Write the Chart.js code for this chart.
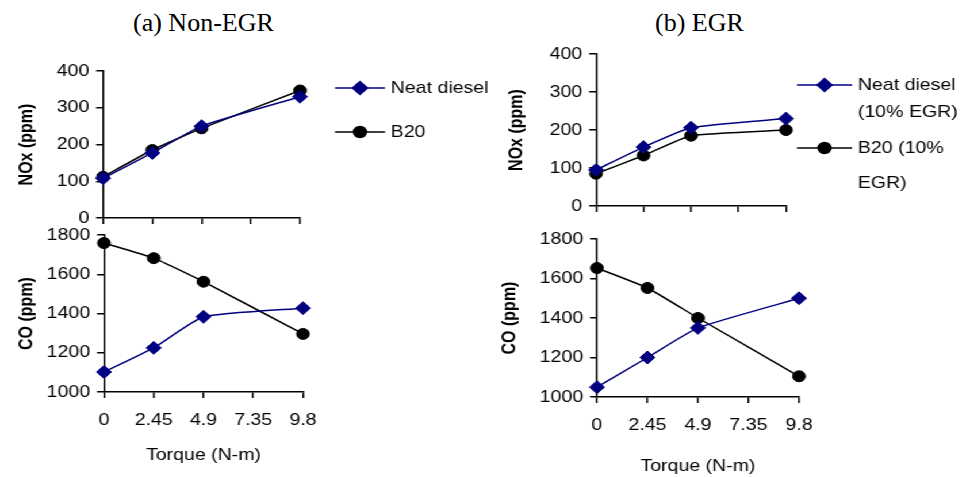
<!DOCTYPE html>
<html>
<head>
<meta charset="utf-8">
<script src="https://cdn.jsdelivr.net/npm/chart.js@4/dist/chart.umd.min.js"></script>
<style>
  body { margin: 0; background: #fff; overflow: hidden; }
  #wrap { position: absolute; left: 0; top: 0; width: 838px; height: 477px;
          transform: scaleX(1.15); transform-origin: 0 0; }
  canvas { position: absolute; }
  .title { position: absolute; font-family: "Liberation Serif", "Times New Roman", serif;
           font-size: 26px; line-height: 26px; color: #000; white-space: nowrap; }
</style>
</head>
<body>
<div class="title" style="left:133px; top:10px;">(a) Non-EGR</div>
<div class="title" style="left:655px; top:10px;">(b) EGR</div>
<div id="wrap">
  <canvas id="noxNonEgr" width="440" height="200" style="left:0px; top:40px;"></canvas>
  <canvas id="coNonEgr" width="440" height="250" style="left:0px; top:225px;"></canvas>
  <canvas id="noxEgr" width="418" height="200" style="left:420px; top:30px;"></canvas>
  <canvas id="coEgr" width="418" height="247" style="left:420px; top:230px;"></canvas>
</div>
<script>
// torque axis
const torque = [0, 2.45, 4.9, 9.8];
const torqueTicks = [0, 2.45, 4.9, 7.35, 9.8];
const tickLabels = ["0", "2.45", "4.9", "7.35", "9.8"];
const xTitle = "Torque (N-m)";

// (a) Non-EGR
const noxNeatNonEgr = [108, 177, 250, 330];
const noxB20NonEgr = [112, 185, 244, 347];
const coNeatNonEgr = [1102, 1225, 1383, 1427];
const coB20NonEgr = [1759, 1682, 1562, 1296];

// (b) EGR
const noxNeatEgr = [95, 155, 206, 230];
const noxB20Egr = [85, 133, 185, 200];
const coNeatEgr = [1050, 1200, 1350, 1500];
const coB20Egr = [1653, 1552, 1400, 1105];

const legendNonEgr = [["Neat diesel"], ["B20"]];
const legendEgr = [["Neat diesel", "(10% EGR)"], ["B20 (10%", "EGR)"]];

const SANS = '"Liberation Sans", Arial, sans-serif';
const NAVY = "#000080";
Chart.defaults.color = "#000";
Chart.defaults.font.family = SANS;

const neatStyle = {
  borderColor: NAVY, backgroundColor: NAVY, pointStyle: "rectRot",
  pointRadius: 6.5, pointBorderWidth: 1, borderWidth: 1.5
};
const b20Style = {
  borderColor: "#000", backgroundColor: "#000", pointStyle: "circle",
  pointRadius: 5.5, pointBorderWidth: 1, borderWidth: 1.5
};

function series(label, values, style) {
  return Object.assign({
    label: label,
    data: torque.map((t, i) => ({ x: t, y: values[i] })),
    tension: 0.15,
    clip: false
  }, style);
}

// legend drawn beside the NOx plots, lines of text stacked
const sideLegend = {
  id: "sideLegend",
  afterDraw(chart, args, opts) {
    if (!opts.items) return;
    const ctx = chart.ctx;
    ctx.save();
    opts.items.forEach((item) => {
      ctx.strokeStyle = item.style.borderColor;
      ctx.fillStyle = item.style.backgroundColor;
      ctx.lineWidth = 1.5;
      ctx.beginPath();
      ctx.moveTo(opts.x1, item.y);
      ctx.lineTo(opts.x2, item.y);
      ctx.stroke();
      Chart.helpers.drawPoint(ctx, {
        pointStyle: item.style.pointStyle, rotation: 0,
        radius: item.style.pointRadius, borderWidth: 1
      }, (opts.x1 + opts.x2) / 2, item.y);
      ctx.fillStyle = "#000";
      ctx.font = "17px " + SANS;
      ctx.textBaseline = "middle";
      ctx.textAlign = "left";
      item.text.forEach((line, k) => {
        ctx.fillText(line, opts.x2 + 5, item.lines[k]);
      });
    });
    ctx.restore();
  }
};

function makePanel(id, p) {
  const axisLine = { display: true, color: "#000", width: 1.5 };
  const tickGrid = {
    display: true, drawOnChartArea: false, drawTicks: true,
    tickLength: 6, color: "#000", lineWidth: 1.5
  };
  return new Chart(document.getElementById(id), {
    type: "line",
    data: { datasets: p.datasets },
    plugins: [sideLegend],
    options: {
      responsive: false,
      animation: false,
      devicePixelRatio: 1,
      layout: { padding: { left: 0, top: p.padTop, right: p.padRight, bottom: 0 } },
      plugins: {
        legend: { display: false },
        tooltip: { enabled: false },
        sideLegend: p.legend || {}
      },
      scales: {
        x: {
          type: "linear",
          min: 0,
          max: 9.8,
          border: axisLine,
          grid: tickGrid,
          afterBuildTicks: (scale) => {
            scale.ticks = torqueTicks.map((v) => ({ value: v }));
          },
          afterFit: (scale) => {
            scale.height = p.xHeight;
            scale.paddingLeft = 0;
            scale.paddingRight = 0;
          },
          ticks: {
            display: p.showX,
            autoSkip: false,
            maxRotation: 0,
            padding: 12,
            font: { size: 17 },
            callback: (value, index) => tickLabels[index]
          },
          title: {
            display: p.showX,
            text: xTitle,
            font: { size: 17 },
            padding: { top: 0, bottom: p.xTitlePad || 0 }
          }
        },
        y: {
          min: p.yMin,
          max: p.yMax,
          border: axisLine,
          grid: tickGrid,
          afterFit: (scale) => {
            scale.width = p.yWidth;
            scale.paddingTop = 0;
            scale.paddingBottom = 0;
          },
          ticks: {
            stepSize: p.yStep,
            padding: 6,
            font: { size: 17 },
            callback: (value) => String(value)
          },
          title: {
            display: true,
            text: p.yTitle,
            font: { size: 16, weight: "bold" },
            padding: { top: p.yTitlePad, bottom: 0 }
          }
        }
      }
    }
  });
}

makePanel("noxNonEgr", {
  yWidth: 89.6, xHeight: 22, padTop: 31, padRight: 179.1,
  yMin: 0, yMax: 400, yStep: 100, yTitle: "NOx (ppm)", yTitlePad: 14,
  showX: false,
  datasets: [
    series("Neat diesel", noxNeatNonEgr, neatStyle),
    series("B20", noxB20NonEgr, b20Style)
  ],
  legend: {
    x1: 291.3, x2: 334.8,
    items: [
      { text: legendNonEgr[0], y: 48, lines: [48], style: neatStyle },
      { text: legendNonEgr[1], y: 92, lines: [92], style: b20Style }
    ]
  }
});

makePanel("coNonEgr", {
  yWidth: 90.4, xHeight: 83, padTop: 10, padRight: 176.5,
  yMin: 1000, yMax: 1800, yStep: 200, yTitle: "CO (ppm)", yTitlePad: 14,
  showX: true, xTitlePad: 9,
  datasets: [
    series("Neat diesel", coNeatNonEgr, neatStyle),
    series("B20", coB20NonEgr, b20Style)
  ]
});

makePanel("noxEgr", {
  yWidth: 98.3, xHeight: 24, padTop: 24, padRight: 154.5,
  yMin: 0, yMax: 400, yStep: 100, yTitle: "NOx (ppm)", yTitlePad: 20,
  showX: false,
  datasets: [
    series("Neat diesel (10% EGR)", noxNeatEgr, neatStyle),
    series("B20 (10% EGR)", noxB20Egr, b20Style)
  ],
  legend: {
    x1: 273, x2: 321,
    items: [
      { text: legendEgr[0], y: 55, lines: [55, 82], style: neatStyle },
      { text: legendEgr[1], y: 118, lines: [118, 153], style: b20Style }
    ]
  }
});

makePanel("coEgr", {
  yWidth: 99.1, xHeight: 80, padTop: 9, padRight: 143.2,
  yMin: 1000, yMax: 1800, yStep: 200, yTitle: "CO (ppm)", yTitlePad: 14,
  showX: true, xTitlePad: 0,
  datasets: [
    series("Neat diesel (10% EGR)", coNeatEgr, neatStyle),
    series("B20 (10% EGR)", coB20Egr, b20Style)
  ]
});
</script>
</body>
</html>
